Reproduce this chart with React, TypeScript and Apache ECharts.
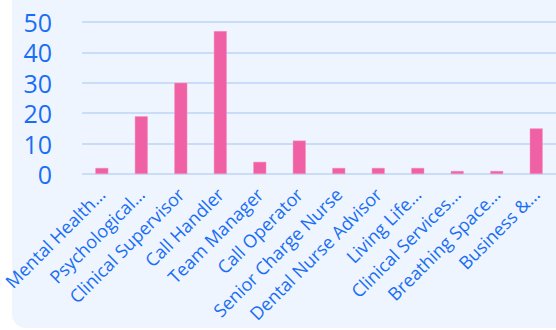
import React, { useEffect, useRef } from "react";
import * as echarts from "echarts";

const categories = [
  "Mental Health…",
  "Psychological…",
  "Clinical Supervisor",
  "Call Handler",
  "Team Manager",
  "Call Operator",
  "Senior Charge Nurse",
  "Dental Nurse Advisor",
  "Living Life…",
  "Clinical Services…",
  "Breathing Space…",
  "Business &…",
];
const values = [2, 19, 30, 47, 4, 11, 2, 2, 2, 1, 1, 15];
const yTicks = [0, 10, 20, 30, 40, 50];

export default function App() {
  const ref = useRef<HTMLDivElement>(null);
  useEffect(() => {
    if (!ref.current) return;
    const chart = echarts.init(ref.current, null, { renderer: "svg" });
    chart.setOption({
      animation: false,
      grid: { left: 80, right: -4, top: 22, bottom: 156, containLabel: false },
      xAxis: {
        type: "category",
        data: categories,
        axisLine: { show: false },
        axisTick: { show: false },
        axisLabel: {
          rotate: 45,
          interval: 0,
          margin: 17,
          fontSize: 18,
          fontFamily: "Open Sans",
          color: "#1a6ef5",
        },
      },
      yAxis: {
        type: "value",
        min: yTicks[0],
        max: yTicks[yTicks.length - 1],
        interval: 10,
        axisLine: { show: false },
        axisTick: { show: false },
        axisLabel: {
          margin: 30,
          fontSize: 25,
          lineHeight: 24,
          fontFamily: "Open Sans",
          color: "#1a6ef5",
        },
        splitLine: { lineStyle: { color: "#c9ddfb", width: 2 } },
      },
      series: [
        {
          type: "bar",
          data: values,
          barWidth: 13,
          itemStyle: { color: "#f060a4", borderColor: "#f49ac4", borderWidth: 0.5 },
        },
      ],
    });
    return () => chart.dispose();
  }, []);
  return (
    <div style={{ position: "fixed", left: 0, top: 0, width: 556, height: 330, background: "#ffffff", overflow: "hidden" }}>
      <div
        style={{
          position: "absolute",
          left: 12,
          top: -20,
          width: 580,
          height: 348,
          borderRadius: 14,
          background: "#eff5fe",
        }}
      />
      <div ref={ref} style={{ position: "absolute", left: 0, top: 0, width: 556, height: 330 }} />
    </div>
  );
}
